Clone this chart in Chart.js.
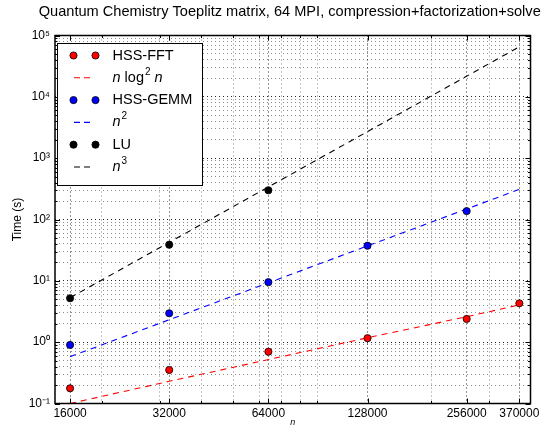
<!DOCTYPE html>
<html>
<head>
<meta charset="utf-8">
<script src="https://cdn.jsdelivr.net/npm/chart.js@4.4.0/dist/chart.umd.min.js"></script>
<style>
  body { margin: 0; background: #fff; }
</style>
</head>
<body>
<canvas id="chart" width="557" height="434"></canvas>
<script>
// matrix sizes n
const sizes = [16000, 32000, 64000, 128000, 256000, 370000];
// measured times (s)
const fftTimes = [0.177, 0.352, 0.70, 1.16, 2.39, 4.30];
const gemmTimes = [0.90, 2.96, 9.5, 37.4, 137, null];
const luTimes = [5.2, 38.8, 300, null, null, null];
// reference curves
const fftRef = [0.10, 0.23, 0.52, 1.18, 2.6, 4.05];
const refEnds = [16000, 370000];
const gemmRef = [0.58, 310];
const luRef = [5.3, 65500];

// ticks / grid
const xMajor = [16000, 32000, 64000, 128000, 256000, 370000];
const xMinor = [20000, 30000, 40000, 50000, 60000, 70000, 80000, 90000, 200000, 300000];
const yMajor = [0.1, 1, 10, 100, 1000, 10000, 100000];
const yTickLabels = ['10⁻¹', '10⁰', '10¹', '10²', '10³', '10⁴', '10⁵'];

const TITLE = 'Quantum Chemistry Toeplitz matrix, 64 MPI, compression+factorization+solve';
const FONT = '"Liberation Sans", Arial, sans-serif';

function pts(xs, ys) {
    return xs.map((x, i) => ({ x: x, y: ys[i] })).filter(p => p.y != null);
}

const yMinor = [];
for (let e = -1; e < 5; e++) {
    for (let m = 2; m <= 9; m++) yMinor.push(+(m * Math.pow(10, e)).toPrecision(3));
}

function dotSet(label, data, color) {
    return {
        label: label, data: data, showLine: false,
        pointRadius: 3.6, pointHoverRadius: 3.6,
        pointBackgroundColor: color, pointBorderColor: '#000', pointBorderWidth: 0.8,
        order: 0
    };
}
function dashSet(label, data, color) {
    return {
        label: label, data: data, borderColor: color, borderWidth: 1.1,
        borderDash: [6, 5], pointRadius: 0, fill: false, tension: 0,
        order: 1
    };
}

// title, frame, inward ticks and legend (matplotlib look)
const decorations = {
    id: 'decorations',
    afterDraw(chart) {
        const ctx = chart.ctx;
        const a = chart.chartArea;
        const xs = chart.scales.x, ys = chart.scales.y;
        ctx.save();

        // title centred over the axes
        ctx.fillStyle = '#000';
        ctx.font = '14.6px ' + FONT;
        ctx.textAlign = 'center';
        ctx.textBaseline = 'middle';
        ctx.fillText(TITLE, (a.left + a.right) / 2 - 3, 12);

        ctx.strokeStyle = '#000';
        ctx.lineWidth = 1;
        ctx.beginPath();
        xs.ticks.forEach(t => {
            const px = Math.round(xs.getPixelForValue(t.value)) + 0.5;
            const len = t.major ? 5 : 2.5;
            ctx.moveTo(px, a.bottom); ctx.lineTo(px, a.bottom - len);
            ctx.moveTo(px, a.top); ctx.lineTo(px, a.top + len);
        });
        ys.ticks.forEach(t => {
            const py = Math.round(ys.getPixelForValue(t.value)) + 0.5;
            const len = t.major ? 5 : 2.5;
            ctx.moveTo(a.left, py); ctx.lineTo(a.left + len, py);
            ctx.moveTo(a.right, py); ctx.lineTo(a.right - len, py);
        });
        ctx.stroke();
        ctx.lineWidth = 1.5;
        ctx.strokeRect(a.left, a.top, a.right - a.left, a.bottom - a.top);

        // legend
        const lx = 57.5, ly = 43.5, lw = 145, lh = 142;
        ctx.fillStyle = '#fff';
        ctx.fillRect(lx, ly, lw, lh);
        ctx.lineWidth = 1;
        ctx.strokeRect(lx, ly, lw, lh);
        const rows = [
            { kind: 'dot', color: '#ff0000', text: [['HSS-FFT', '']] },
            { kind: 'dash', color: '#ff0000', text: [['n', 'i'], [' log', ''], ['2', 's'], [' n', 'i']] },
            { kind: 'dot', color: '#0000ff', text: [['HSS-GEMM', '']] },
            { kind: 'dash', color: '#0000ff', text: [['n', 'i'], ['2', 's']] },
            { kind: 'dot', color: '#000000', text: [['LU', '']] },
            { kind: 'dash', color: '#000000', text: [['n', 'i'], ['3', 's']] }
        ];
        rows.forEach((r, i) => {
            const y = 55.5 + i * 22.3;
            if (r.kind === 'dot') {
                [73.5, 95.5].forEach(cx => {
                    ctx.beginPath();
                    ctx.arc(cx, y, 3.6, 0, Math.PI * 2);
                    ctx.fillStyle = r.color; ctx.fill();
                    ctx.lineWidth = 0.8; ctx.strokeStyle = '#000'; ctx.stroke();
                });
            } else {
                ctx.beginPath();
                ctx.setLineDash([6, 4]);
                ctx.lineWidth = 1.1; ctx.strokeStyle = r.color;
                ctx.moveTo(74, y); ctx.lineTo(90, y);
                ctx.stroke();
                ctx.setLineDash([]);
            }
            let tx = 112.5;
            ctx.fillStyle = '#000';
            ctx.textBaseline = 'middle';
            ctx.textAlign = 'left';
            r.text.forEach(([s, st]) => {
                if (st === 's') {
                    ctx.font = '10px ' + FONT;
                    ctx.fillText(s, tx + 1, y - 6);
                    tx += ctx.measureText(s).width + 1;
                } else {
                    ctx.font = (st === 'i' ? 'italic ' : '') + '14.5px ' + FONT;
                    ctx.fillText(s, tx, y);
                    tx += ctx.measureText(s).width;
                }
            });
        });
        ctx.restore();
    }
};

new Chart(document.getElementById('chart'), {
    type: 'line',
    data: {
        datasets: [
            dotSet('HSS-FFT', pts(sizes, fftTimes), '#ff0000'),
            dashSet('n log^2 n', pts(sizes, fftRef), '#ff0000'),
            dotSet('HSS-GEMM', pts(sizes, gemmTimes), '#0000ff'),
            dashSet('n^2', pts(refEnds, gemmRef), '#0000ff'),
            dotSet('LU', pts(sizes, luTimes), '#000000'),
            dashSet('n^3', pts(refEnds, luRef), '#000000')
        ]
    },
    options: {
        responsive: false,
        devicePixelRatio: 1,
        animation: false,
        events: [],
        layout: { padding: { left: 0, right: 26.5, top: 35.5, bottom: 0 } },
        plugins: {
            legend: { display: false },
            tooltip: { enabled: false },
            title: { display: false }
        },
        scales: {
            x: {
                type: 'logarithmic',
                min: 14400,
                max: 400000,
                afterBuildTicks: s => {
                    s.ticks = xMajor.map(v => ({ value: v, major: true }))
                        .concat(xMinor.map(v => ({ value: v, major: false })));
                },
                afterFit: s => { s.height = 30.5; },
                ticks: {
                    autoSkip: false, maxRotation: 0, padding: 3, color: '#000',
                    font: { family: FONT, size: 12 },
                    callback: v => xMajor.includes(v) ? String(v) : ''
                },
                grid: {
                    drawTicks: false,
                    color: c => c.tick && c.tick.major ? 'rgba(0,0,0,0.85)' : 'rgba(0,0,0,0.45)'
                },
                border: { display: false, dash: [1, 3] },
                title: {
                    display: true, text: 'n', color: '#000',
                    font: { family: FONT, size: 9, style: 'italic' },
                    padding: { top: 0, bottom: 6 }
                }
            },
            y: {
                type: 'logarithmic',
                min: 0.1,
                max: 100000,
                afterBuildTicks: s => {
                    s.ticks = yMajor.map(v => ({ value: v, major: true }))
                        .concat(yMinor.map(v => ({ value: v, major: false })));
                },
                afterFit: s => { s.width = 55; },
                ticks: {
                    autoSkip: false, padding: 5, color: '#000',
                    font: { family: FONT, size: 12 },
                    callback: v => {
                        const i = yMajor.indexOf(v);
                        return i >= 0 ? yTickLabels[i] : '';
                    }
                },
                grid: {
                    drawTicks: false,
                    color: c => c.tick && c.tick.major ? 'rgba(0,0,0,0.85)' : 'rgba(0,0,0,0.45)'
                },
                border: { display: false, dash: [1, 3] },
                title: {
                    display: true, text: 'Time (s)', color: '#000',
                    font: { family: FONT, size: 12 },
                    padding: { top: 10, bottom: 0 }
                }
            }
        }
    },
    plugins: [decorations]
});
</script>
</body>
</html>
